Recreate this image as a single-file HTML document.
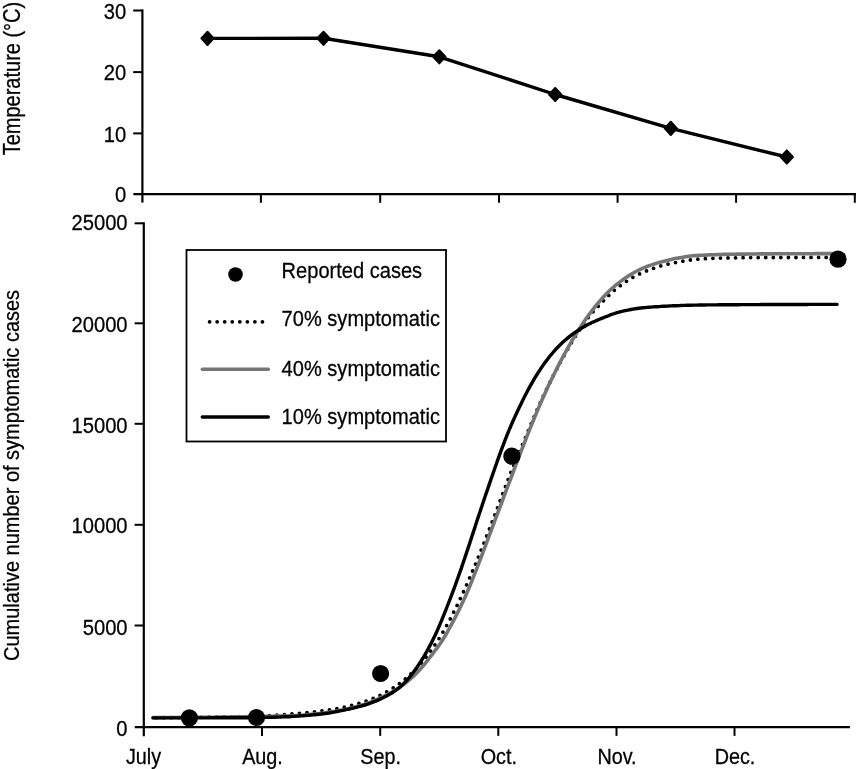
<!DOCTYPE html>
<html lang="en"><head><meta charset="utf-8"><title>Cumulative symptomatic cases</title>
<style>html,body{margin:0;padding:0;background:#fff;width:856px;height:769px;overflow:hidden}</style>
</head><body>
<svg width="856" height="769" viewBox="0 0 856 769" style="display:block;position:absolute;left:0;top:0">
<rect width="856" height="769" fill="#fff"/>
<g fill="none" stroke="#000" stroke-width="2.2" stroke-linecap="butt">
<path d="M142.4 9.4 V202.6"/>
<path d="M133.4 194.1 H856"/>
<path d="M133.2 133.4 H142.4" stroke-width="2"/>
<path d="M133.2 72.1 H142.4" stroke-width="2"/>
<path d="M133.2 10.5 H142.4" stroke-width="2"/>
<path d="M260.9 194.1 V202.8" stroke-width="2"/>
<path d="M380.2 194.1 V202.8" stroke-width="2"/>
<path d="M499.0 194.1 V202.8" stroke-width="2"/>
<path d="M617.6 194.1 V202.8" stroke-width="2"/>
<path d="M736.1 194.1 V202.8" stroke-width="2"/>
<path d="M854.8 194.1 V202.8" stroke-width="2"/>
<path d="M143.8 222.2 V736.2"/>
<path d="M134.8 727.2 H850"/>
<path d="M134.6 625.5 H143.8" stroke-width="2"/>
<path d="M134.6 524.8 H143.8" stroke-width="2"/>
<path d="M134.6 423.8 H143.8" stroke-width="2"/>
<path d="M134.6 323.3 H143.8" stroke-width="2"/>
<path d="M134.6 223.3 H143.8" stroke-width="2"/>
<path d="M262 727.2 V735.9" stroke-width="2"/>
<path d="M380.2 727.2 V735.9" stroke-width="2"/>
<path d="M498.3 727.2 V735.9" stroke-width="2"/>
<path d="M616.5 727.2 V735.9" stroke-width="2"/>
<path d="M734.5 727.2 V735.9" stroke-width="2"/>
</g>
<polyline points="207.5,38.4 323.5,38.3 439.3,56.8 555.2,94.5 670.8,128.4 786.8,157.0" fill="none" stroke="#000" stroke-width="3.4" stroke-linejoin="round"/>
<path d="M201.4 38.4 L207.5 31.8 L213.6 38.4 L207.5 45.0 Z" fill="#000" stroke="#000" stroke-width="2" stroke-linejoin="round"/>
<path d="M317.4 38.3 L323.5 31.7 L329.6 38.3 L323.5 44.9 Z" fill="#000" stroke="#000" stroke-width="2" stroke-linejoin="round"/>
<path d="M433.2 56.8 L439.3 50.2 L445.4 56.8 L439.3 63.4 Z" fill="#000" stroke="#000" stroke-width="2" stroke-linejoin="round"/>
<path d="M549.1 94.5 L555.2 87.9 L561.3 94.5 L555.2 101.1 Z" fill="#000" stroke="#000" stroke-width="2" stroke-linejoin="round"/>
<path d="M664.7 128.4 L670.8 121.8 L676.9 128.4 L670.8 135.0 Z" fill="#000" stroke="#000" stroke-width="2" stroke-linejoin="round"/>
<path d="M780.7 157.0 L786.8 150.4 L792.9 157.0 L786.8 163.6 Z" fill="#000" stroke="#000" stroke-width="2" stroke-linejoin="round"/>
<path d="M153.0 717.9 L155.0 717.8 L157.0 717.8 L159.0 717.8 L161.0 717.8 L163.0 717.8 L165.0 717.7 L167.0 717.7 L169.0 717.7 L171.0 717.7 L173.0 717.7 L175.0 717.6 L177.0 717.6 L179.0 717.6 L181.0 717.6 L183.0 717.5 L185.0 717.5 L187.0 717.5 L189.0 717.5 L191.0 717.4 L193.0 717.4 L195.0 717.4 L197.0 717.3 L199.0 717.3 L201.0 717.3 L203.0 717.2 L205.0 717.2 L207.0 717.2 L209.0 717.2 L211.0 717.1 L213.0 717.1 L215.0 717.1 L217.0 717.1 L219.0 717.0 L221.0 717.0 L223.0 717.0 L225.0 716.9 L227.0 716.9 L229.0 716.9 L231.0 716.8 L233.0 716.8 L235.0 716.8 L237.0 716.7 L239.0 716.7 L241.0 716.7 L243.0 716.6 L245.0 716.6 L247.0 716.6 L249.0 716.5 L251.0 716.5 L253.0 716.4 L255.0 716.3 L257.0 716.3 L259.0 716.2 L261.0 716.1 L263.0 716.0 L265.0 715.9 L267.0 715.8 L269.0 715.7 L271.0 715.5 L273.0 715.4 L275.0 715.3 L277.0 715.1 L279.0 715.0 L281.0 714.8 L283.0 714.7 L285.0 714.5 L287.0 714.4 L289.0 714.2 L291.0 714.0 L293.0 713.9 L295.0 713.7 L297.0 713.5 L299.0 713.3 L301.0 713.2 L303.0 713.0 L305.0 712.8 L307.0 712.6 L309.0 712.4 L311.0 712.2 L313.0 712.0 L315.0 711.7 L317.0 711.5 L319.0 711.3 L321.0 711.0 L323.0 710.7 L325.0 710.5 L327.0 710.2 L329.0 709.9 L331.0 709.6 L333.0 709.2 L335.0 708.9 L337.0 708.6 L339.0 708.2 L341.0 707.8 L343.0 707.4 L345.0 707.0 L347.0 706.5 L349.0 706.1 L351.0 705.6 L353.0 705.1 L355.0 704.6 L357.0 704.0 L359.0 703.5 L361.0 702.8 L363.0 702.2 L365.0 701.5 L367.0 700.8 L369.0 700.1 L371.0 699.3 L373.0 698.5 L375.0 697.7 L377.0 696.8 L379.0 695.9 L381.0 694.9 L383.0 693.9 L385.0 692.9 L387.0 691.7 L389.0 690.6 L391.0 689.4 L393.0 688.1 L395.0 686.8 L397.0 685.4 L399.0 684.0 L401.0 682.5 L403.0 680.9 L405.0 679.3 L407.0 677.6 L409.0 675.8 L411.0 673.9 L413.0 672.0 L415.0 670.0 L417.0 667.9 L419.0 665.7 L421.0 663.4 L423.0 661.0 L425.0 658.5 L427.0 656.0 L429.0 653.3 L431.0 650.6 L433.0 647.7 L435.0 644.8 L437.0 641.7 L439.0 638.6 L441.0 635.3 L443.0 632.0 L445.0 628.5 L447.0 624.9 L449.0 621.3 L451.0 617.5 L453.0 613.6 L455.0 609.6 L457.0 605.6 L459.0 601.4 L461.0 597.1 L463.0 592.8 L465.0 588.4 L467.0 583.9 L469.0 579.4 L471.0 574.7 L473.0 570.0 L475.0 565.3 L477.0 560.4 L479.0 555.5 L481.0 550.5 L483.0 545.5 L485.0 540.4 L487.0 535.3 L489.0 530.2 L491.0 525.0 L493.0 519.7 L495.0 514.5 L497.0 509.1 L499.0 503.8 L501.0 498.4 L503.0 493.1 L505.0 487.8 L507.0 482.5 L509.0 477.3 L511.0 472.3 L513.0 467.4 L515.0 462.5 L517.0 457.8 L519.0 453.0 L521.0 448.3 L523.0 443.6 L525.0 438.8 L527.0 433.9 L529.0 429.1 L531.0 424.3 L533.0 419.5 L535.0 414.8 L537.0 410.1 L539.0 405.6 L541.0 401.1 L543.0 396.7 L545.0 392.5 L547.0 388.3 L549.0 384.2 L551.0 380.2 L553.0 376.3 L555.0 372.4 L557.0 368.6 L559.0 364.8 L561.0 361.1 L563.0 357.5 L565.0 353.9 L567.0 350.3 L569.0 346.9 L571.0 343.5 L573.0 340.2 L575.0 336.9 L577.0 333.8 L579.0 330.7 L581.0 327.7 L583.0 324.7 L585.0 321.9 L587.0 319.2 L589.0 316.6 L591.0 314.1 L593.0 311.8 L595.0 309.6 L597.0 307.5 L599.0 305.4 L601.0 303.3 L603.0 301.3 L605.0 299.2 L607.0 297.1 L609.0 295.2 L611.0 293.3 L613.0 291.5 L615.0 289.8 L617.0 288.2 L619.0 286.6 L621.0 285.1 L623.0 283.7 L625.0 282.3 L627.0 281.0 L629.0 279.7 L631.0 278.5 L633.0 277.3 L635.0 276.2 L637.0 275.2 L639.0 274.2 L641.0 273.3 L643.0 272.4 L645.0 271.5 L647.0 270.7 L649.0 269.9 L651.0 269.2 L653.0 268.5 L655.0 267.8 L657.0 267.1 L659.0 266.5 L661.0 265.9 L663.0 265.4 L665.0 264.8 L667.0 264.3 L669.0 263.9 L671.0 263.4 L673.0 263.0 L675.0 262.7 L677.0 262.3 L679.0 261.9 L681.0 261.6 L683.0 261.2 L685.0 260.8 L687.0 260.5 L689.0 260.2 L691.0 259.9 L693.0 259.6 L695.0 259.5 L697.0 259.3 L699.0 259.1 L701.0 259.0 L703.0 258.8 L705.0 258.7 L707.0 258.6 L709.0 258.5 L711.0 258.4 L713.0 258.3 L715.0 258.2 L717.0 258.1 L719.0 258.1 L721.0 258.1 L723.0 258.0 L725.0 258.0 L727.0 257.9 L729.0 257.9 L731.0 257.9 L733.0 257.8 L735.0 257.8 L737.0 257.8 L739.0 257.8 L741.0 257.7 L743.0 257.7 L745.0 257.7 L747.0 257.7 L749.0 257.6 L751.0 257.6 L753.0 257.6 L755.0 257.6 L757.0 257.6 L759.0 257.6 L761.0 257.6 L763.0 257.6 L765.0 257.5 L767.0 257.5 L769.0 257.5 L771.0 257.5 L773.0 257.5 L775.0 257.5 L777.0 257.5 L779.0 257.5 L781.0 257.5 L783.0 257.5 L785.0 257.5 L787.0 257.5 L789.0 257.5 L791.0 257.5 L793.0 257.5 L795.0 257.5 L797.0 257.5 L799.0 257.4 L801.0 257.4 L803.0 257.4 L805.0 257.4 L807.0 257.4 L809.0 257.4 L811.0 257.4 L813.0 257.4 L815.0 257.4 L817.0 257.4 L819.0 257.4 L821.0 257.4 L823.0 257.4 L825.0 257.4 L827.0 257.4 L829.0 257.4 L831.0 257.4 L833.0 257.4 L835.0 257.4 L837.0 257.4" fill="none" stroke="#000" stroke-width="3.8" stroke-dasharray="0 7.55" stroke-dashoffset="4.4" stroke-linecap="round" stroke-linejoin="round"/>
<path d="M153.0 717.6 L155.0 717.6 L157.0 717.6 L159.0 717.6 L161.0 717.6 L163.0 717.5 L165.0 717.5 L167.0 717.5 L169.0 717.5 L171.0 717.5 L173.0 717.5 L175.0 717.5 L177.0 717.5 L179.0 717.5 L181.0 717.4 L183.0 717.4 L185.0 717.4 L187.0 717.4 L189.0 717.4 L191.0 717.4 L193.0 717.4 L195.0 717.4 L197.0 717.3 L199.0 717.3 L201.0 717.3 L203.0 717.3 L205.0 717.3 L207.0 717.2 L209.0 717.2 L211.0 717.2 L213.0 717.2 L215.0 717.2 L217.0 717.1 L219.0 717.1 L221.0 717.1 L223.0 717.1 L225.0 717.0 L227.0 717.0 L229.0 717.0 L231.0 717.0 L233.0 716.9 L235.0 716.9 L237.0 716.9 L239.0 716.8 L241.0 716.8 L243.0 716.8 L245.0 716.7 L247.0 716.7 L249.0 716.6 L251.0 716.6 L253.0 716.5 L255.0 716.5 L257.0 716.4 L259.0 716.4 L261.0 716.3 L263.0 716.3 L265.0 716.2 L267.0 716.2 L269.0 716.2 L271.0 716.2 L273.0 716.2 L275.0 716.1 L277.0 716.1 L279.0 716.1 L281.0 716.1 L283.0 716.1 L285.0 716.0 L287.0 716.0 L289.0 715.9 L291.0 715.9 L293.0 715.8 L295.0 715.7 L297.0 715.6 L299.0 715.5 L301.0 715.3 L303.0 715.2 L305.0 715.0 L307.0 714.8 L309.0 714.6 L311.0 714.4 L313.0 714.2 L315.0 714.0 L317.0 713.8 L319.0 713.6 L321.0 713.3 L323.0 713.1 L325.0 712.8 L327.0 712.5 L329.0 712.2 L331.0 711.9 L333.0 711.6 L335.0 711.3 L337.0 710.9 L339.0 710.6 L341.0 710.2 L343.0 709.8 L345.0 709.4 L347.0 708.9 L349.0 708.5 L351.0 708.0 L353.0 707.5 L355.0 707.0 L357.0 706.4 L359.0 705.9 L361.0 705.3 L363.0 704.6 L365.0 704.0 L367.0 703.3 L369.0 702.6 L371.0 701.8 L373.0 701.0 L375.0 700.2 L377.0 699.4 L379.0 698.5 L381.0 697.5 L383.0 696.6 L385.0 695.6 L387.0 694.6 L389.0 693.6 L391.0 692.5 L393.0 691.4 L395.0 690.2 L397.0 689.0 L399.0 687.7 L401.0 686.3 L403.0 684.9 L405.0 683.4 L407.0 681.8 L409.0 680.2 L411.0 678.4 L413.0 676.6 L415.0 674.7 L417.0 672.7 L419.0 670.6 L421.0 668.4 L423.0 666.0 L425.0 663.6 L427.0 661.1 L429.0 658.5 L431.0 655.9 L433.0 653.3 L435.0 650.7 L437.0 648.1 L439.0 645.3 L441.0 642.4 L443.0 639.3 L445.0 636.0 L447.0 632.6 L449.0 629.0 L451.0 625.4 L453.0 621.7 L455.0 617.9 L457.0 614.0 L459.0 609.9 L461.0 605.8 L463.0 601.6 L465.0 597.2 L467.0 592.7 L469.0 588.0 L471.0 583.1 L473.0 578.0 L475.0 572.9 L477.0 567.8 L479.0 562.6 L481.0 557.5 L483.0 552.2 L485.0 546.9 L487.0 541.6 L489.0 536.2 L491.0 530.9 L493.0 525.5 L495.0 520.2 L497.0 514.9 L499.0 509.6 L501.0 504.3 L503.0 499.0 L505.0 493.7 L507.0 488.4 L509.0 483.1 L511.0 477.8 L513.0 472.5 L515.0 467.2 L517.0 461.9 L519.0 456.7 L521.0 451.5 L523.0 446.4 L525.0 441.3 L527.0 436.2 L529.0 431.2 L531.0 426.2 L533.0 421.3 L535.0 416.4 L537.0 411.6 L539.0 406.9 L541.0 402.3 L543.0 397.7 L545.0 393.3 L547.0 388.9 L549.0 384.6 L551.0 380.4 L553.0 376.3 L555.0 372.3 L557.0 368.3 L559.0 364.4 L561.0 360.5 L563.0 356.8 L565.0 353.1 L567.0 349.5 L569.0 345.9 L571.0 342.4 L573.0 339.0 L575.0 335.7 L577.0 332.5 L579.0 329.3 L581.0 326.2 L583.0 323.2 L585.0 320.2 L587.0 317.4 L589.0 314.6 L591.0 312.0 L593.0 309.4 L595.0 306.9 L597.0 304.4 L599.0 302.0 L601.0 299.7 L603.0 297.4 L605.0 295.3 L607.0 293.2 L609.0 291.2 L611.0 289.3 L613.0 287.5 L615.0 285.8 L617.0 284.1 L619.0 282.6 L621.0 281.1 L623.0 279.6 L625.0 278.3 L627.0 276.9 L629.0 275.6 L631.0 274.4 L633.0 273.2 L635.0 272.0 L637.0 271.0 L639.0 270.0 L641.0 269.1 L643.0 268.2 L645.0 267.3 L647.0 266.5 L649.0 265.8 L651.0 265.1 L653.0 264.4 L655.0 263.7 L657.0 263.1 L659.0 262.5 L661.0 261.9 L663.0 261.4 L665.0 260.9 L667.0 260.4 L669.0 259.9 L671.0 259.5 L673.0 259.0 L675.0 258.6 L677.0 258.2 L679.0 257.9 L681.0 257.5 L683.0 257.2 L685.0 256.8 L687.0 256.5 L689.0 256.2 L691.0 256.0 L693.0 255.8 L695.0 255.6 L697.0 255.5 L699.0 255.4 L701.0 255.3 L703.0 255.2 L705.0 255.1 L707.0 255.0 L709.0 254.9 L711.0 254.8 L713.0 254.7 L715.0 254.7 L717.0 254.6 L719.0 254.5 L721.0 254.5 L723.0 254.4 L725.0 254.4 L727.0 254.3 L729.0 254.3 L731.0 254.2 L733.0 254.2 L735.0 254.2 L737.0 254.1 L739.0 254.1 L741.0 254.1 L743.0 254.1 L745.0 254.1 L747.0 254.0 L749.0 254.0 L751.0 254.0 L753.0 254.0 L755.0 254.0 L757.0 254.0 L759.0 253.9 L761.0 253.9 L763.0 253.9 L765.0 253.9 L767.0 253.9 L769.0 253.9 L771.0 253.9 L773.0 253.8 L775.0 253.8 L777.0 253.8 L779.0 253.8 L781.0 253.8 L783.0 253.8 L785.0 253.8 L787.0 253.8 L789.0 253.7 L791.0 253.7 L793.0 253.7 L795.0 253.7 L797.0 253.7 L799.0 253.7 L801.0 253.7 L803.0 253.7 L805.0 253.7 L807.0 253.7 L809.0 253.7 L811.0 253.7 L813.0 253.7 L815.0 253.6 L817.0 253.6 L819.0 253.6 L821.0 253.6 L823.0 253.6 L825.0 253.6 L827.0 253.6 L829.0 253.6 L831.0 253.6 L833.0 253.6 L835.0 253.6 L837.0 253.6" fill="none" stroke="#757575" stroke-width="3.6" stroke-linejoin="round" stroke-linecap="round"/>
<path d="M153.0 717.9 L155.0 717.9 L157.0 717.9 L159.0 717.9 L161.0 717.9 L163.0 717.9 L165.0 717.9 L167.0 717.9 L169.0 717.9 L171.0 717.9 L173.0 717.9 L175.0 717.9 L177.0 717.9 L179.0 717.9 L181.0 717.9 L183.0 717.9 L185.0 717.9 L187.0 717.9 L189.0 717.9 L191.0 717.9 L193.0 717.9 L195.0 717.9 L197.0 717.9 L199.0 717.9 L201.0 717.9 L203.0 717.9 L205.0 717.9 L207.0 717.9 L209.0 717.9 L211.0 717.8 L213.0 717.8 L215.0 717.8 L217.0 717.8 L219.0 717.8 L221.0 717.8 L223.0 717.8 L225.0 717.8 L227.0 717.8 L229.0 717.8 L231.0 717.8 L233.0 717.8 L235.0 717.8 L237.0 717.8 L239.0 717.7 L241.0 717.7 L243.0 717.7 L245.0 717.7 L247.0 717.7 L249.0 717.7 L251.0 717.6 L253.0 717.6 L255.0 717.6 L257.0 717.6 L259.0 717.5 L261.0 717.5 L263.0 717.5 L265.0 717.4 L267.0 717.4 L269.0 717.3 L271.0 717.3 L273.0 717.2 L275.0 717.2 L277.0 717.1 L279.0 717.1 L281.0 717.0 L283.0 716.9 L285.0 716.8 L287.0 716.8 L289.0 716.7 L291.0 716.5 L293.0 716.4 L295.0 716.3 L297.0 716.1 L299.0 716.0 L301.0 715.8 L303.0 715.7 L305.0 715.5 L307.0 715.4 L309.0 715.2 L311.0 715.0 L313.0 714.9 L315.0 714.7 L317.0 714.5 L319.0 714.3 L321.0 714.1 L323.0 713.8 L325.0 713.6 L327.0 713.3 L329.0 713.0 L331.0 712.6 L333.0 712.3 L335.0 711.9 L337.0 711.5 L339.0 711.1 L341.0 710.7 L343.0 710.3 L345.0 709.8 L347.0 709.4 L349.0 709.0 L351.0 708.5 L353.0 708.1 L355.0 707.6 L357.0 707.2 L359.0 706.7 L361.0 706.2 L363.0 705.6 L365.0 705.0 L367.0 704.4 L369.0 703.7 L371.0 703.0 L373.0 702.2 L375.0 701.4 L377.0 700.6 L379.0 699.7 L381.0 698.8 L383.0 697.8 L385.0 696.8 L387.0 695.8 L389.0 694.6 L391.0 693.5 L393.0 692.2 L395.0 690.8 L397.0 689.4 L399.0 687.9 L401.0 686.2 L403.0 684.3 L405.0 682.3 L407.0 680.1 L409.0 677.8 L411.0 675.4 L413.0 672.8 L415.0 670.1 L417.0 667.3 L419.0 664.3 L421.0 661.2 L423.0 658.0 L425.0 654.6 L427.0 651.1 L429.0 647.4 L431.0 643.6 L433.0 639.6 L435.0 635.5 L437.0 631.1 L439.0 626.6 L441.0 621.9 L443.0 617.0 L445.0 612.1 L447.0 607.0 L449.0 601.9 L451.0 596.7 L453.0 591.4 L455.0 586.0 L457.0 580.4 L459.0 574.8 L461.0 569.1 L463.0 563.3 L465.0 557.4 L467.0 551.4 L469.0 545.4 L471.0 539.2 L473.0 533.1 L475.0 526.9 L477.0 520.8 L479.0 514.7 L481.0 508.7 L483.0 502.8 L485.0 496.8 L487.0 491.0 L489.0 485.1 L491.0 479.3 L493.0 473.5 L495.0 467.7 L497.0 462.0 L499.0 456.4 L501.0 450.9 L503.0 445.6 L505.0 440.3 L507.0 435.2 L509.0 430.3 L511.0 425.6 L513.0 421.0 L515.0 416.6 L517.0 412.3 L519.0 408.1 L521.0 403.9 L523.0 399.8 L525.0 395.8 L527.0 392.0 L529.0 388.2 L531.0 384.6 L533.0 381.1 L535.0 377.7 L537.0 374.5 L539.0 371.4 L541.0 368.3 L543.0 365.4 L545.0 362.6 L547.0 359.9 L549.0 357.3 L551.0 354.8 L553.0 352.5 L555.0 350.2 L557.0 348.0 L559.0 346.0 L561.0 344.0 L563.0 342.1 L565.0 340.3 L567.0 338.6 L569.0 336.9 L571.0 335.4 L573.0 333.9 L575.0 332.4 L577.0 331.1 L579.0 329.8 L581.0 328.5 L583.0 327.3 L585.0 326.2 L587.0 325.1 L589.0 324.0 L591.0 323.1 L593.0 322.1 L595.0 321.2 L597.0 320.3 L599.0 319.5 L601.0 318.7 L603.0 317.9 L605.0 317.0 L607.0 316.3 L609.0 315.5 L611.0 314.7 L613.0 314.0 L615.0 313.3 L617.0 312.7 L619.0 312.2 L621.0 311.6 L623.0 311.2 L625.0 310.7 L627.0 310.3 L629.0 309.9 L631.0 309.5 L633.0 309.1 L635.0 308.8 L637.0 308.5 L639.0 308.2 L641.0 308.0 L643.0 307.8 L645.0 307.6 L647.0 307.4 L649.0 307.2 L651.0 307.1 L653.0 306.9 L655.0 306.8 L657.0 306.7 L659.0 306.6 L661.0 306.4 L663.0 306.3 L665.0 306.2 L667.0 306.1 L669.0 306.0 L671.0 305.9 L673.0 305.8 L675.0 305.8 L677.0 305.7 L679.0 305.6 L681.0 305.5 L683.0 305.4 L685.0 305.4 L687.0 305.3 L689.0 305.2 L691.0 305.2 L693.0 305.1 L695.0 305.1 L697.0 305.1 L699.0 305.0 L701.0 305.0 L703.0 305.0 L705.0 305.0 L707.0 304.9 L709.0 304.9 L711.0 304.9 L713.0 304.9 L715.0 304.9 L717.0 304.9 L719.0 304.8 L721.0 304.8 L723.0 304.8 L725.0 304.8 L727.0 304.8 L729.0 304.7 L731.0 304.7 L733.0 304.7 L735.0 304.7 L737.0 304.7 L739.0 304.7 L741.0 304.6 L743.0 304.6 L745.0 304.6 L747.0 304.6 L749.0 304.6 L751.0 304.6 L753.0 304.6 L755.0 304.6 L757.0 304.6 L759.0 304.6 L761.0 304.5 L763.0 304.5 L765.0 304.5 L767.0 304.5 L769.0 304.5 L771.0 304.5 L773.0 304.5 L775.0 304.5 L777.0 304.5 L779.0 304.5 L781.0 304.5 L783.0 304.5 L785.0 304.5 L787.0 304.5 L789.0 304.5 L791.0 304.5 L793.0 304.5 L795.0 304.5 L797.0 304.5 L799.0 304.5 L801.0 304.5 L803.0 304.5 L805.0 304.5 L807.0 304.5 L809.0 304.4 L811.0 304.4 L813.0 304.4 L815.0 304.4 L817.0 304.4 L819.0 304.4 L821.0 304.4 L823.0 304.4 L825.0 304.4 L827.0 304.4 L829.0 304.4 L831.0 304.4 L833.0 304.4 L835.0 304.4 L837.0 304.4" fill="none" stroke="#000" stroke-width="3.4" stroke-linejoin="round" stroke-linecap="round"/>
<circle cx="189.4" cy="717.8" r="8.6" fill="#000"/>
<circle cx="256.5" cy="717.5" r="8.6" fill="#000"/>
<circle cx="380.6" cy="673.5" r="8.6" fill="#000"/>
<circle cx="511.9" cy="456.2" r="8.6" fill="#000"/>
<circle cx="838" cy="259.2" r="8.6" fill="#000"/>
<rect x="186.5" y="250" width="259.5" height="191.5" fill="#fff" stroke="#000" stroke-width="1.8"/>
<circle cx="235.5" cy="274.5" r="7.3" fill="#000"/>
<path d="M209.6 321.8 H264" fill="none" stroke="#000" stroke-width="3.8" stroke-dasharray="0 7.55" stroke-linecap="round"/>
<path d="M202.3 369.2 H268.3" fill="none" stroke="#757575" stroke-width="3.5" stroke-linecap="round"/>
<path d="M202.3 417.0 H268.3" fill="none" stroke="#000" stroke-width="3.4" stroke-linecap="round"/>
<g font-family="'Liberation Sans', Arial, Helvetica, sans-serif" font-size="20" fill="#000" stroke="#000" stroke-width="0.25">
<text transform="translate(126.2,19.4) scale(1,1.06)" text-anchor="end" font-size="20.2">30</text>
<text transform="translate(126.2,79.8) scale(1,1.06)" text-anchor="end" font-size="20.2">20</text>
<text transform="translate(126.2,141.6) scale(1,1.06)" text-anchor="end" font-size="20.2">10</text>
<text transform="translate(126.2,202.0) scale(1,1.06)" text-anchor="end" font-size="20.2">0</text>
<text transform="translate(127.6,230.3) scale(1,1.06)" text-anchor="end" font-size="20.2">25000</text>
<text transform="translate(127.6,331.7) scale(1,1.06)" text-anchor="end" font-size="20.2">20000</text>
<text transform="translate(127.6,433.0) scale(1,1.06)" text-anchor="end" font-size="20.2">15000</text>
<text transform="translate(127.6,533.4) scale(1,1.06)" text-anchor="end" font-size="20.2">10000</text>
<text transform="translate(127.6,634.6) scale(1,1.06)" text-anchor="end" font-size="20.2">5000</text>
<text transform="translate(127.6,735.8) scale(1,1.06)" text-anchor="end" font-size="20.2">0</text>
<text transform="translate(143.5,763.8) scale(1,1.14)" text-anchor="middle" font-size="19.8">July</text>
<text transform="translate(262.5,763.8) scale(1,1.14)" text-anchor="middle" font-size="19.8">Aug.</text>
<text transform="translate(380.7,763.8) scale(1,1.14)" text-anchor="middle" font-size="19.8">Sep.</text>
<text transform="translate(498.8,763.8) scale(1,1.14)" text-anchor="middle" font-size="19.8">Oct.</text>
<text transform="translate(617.0,763.8) scale(1,1.14)" text-anchor="middle" font-size="19.8">Nov.</text>
<text transform="translate(735.0,763.8) scale(1,1.14)" text-anchor="middle" font-size="19.8">Dec.</text>
<text transform="translate(281.6,277.9) scale(1,1.09)" text-anchor="start" font-size="20.07">Reported cases</text>
<text transform="translate(281.6,326.1) scale(1,1.09)" text-anchor="start" font-size="20.07">70% symptomatic</text>
<text transform="translate(281.6,375.6) scale(1,1.09)" text-anchor="start" font-size="20.07">40% symptomatic</text>
<text transform="translate(281.6,423.8) scale(1,1.09)" text-anchor="start" font-size="20.07">10% symptomatic</text>
<text transform="translate(19.7,155.3) rotate(-90) scale(1,1.19)" text-anchor="start">Temperature (°C)</text>
<text transform="translate(19.1,661.0) rotate(-90) scale(1,1.1)" text-anchor="start">Cumulative number of symptomatic cases</text>
</g>
</svg>
</body></html>
